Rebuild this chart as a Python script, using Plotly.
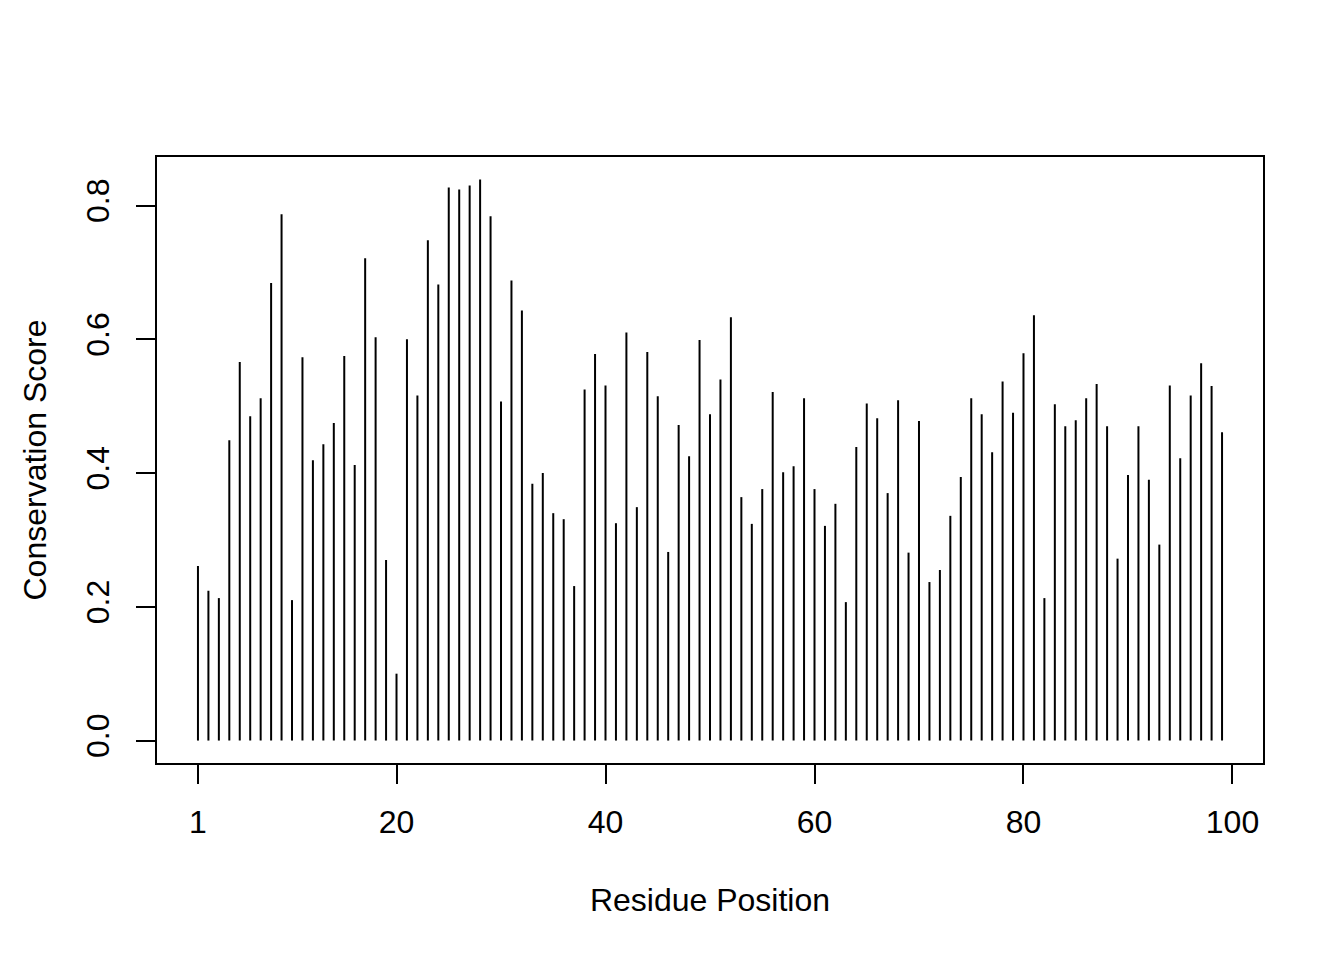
import plotly.graph_objects as go

# residue positions and conservation scores
positions = list(range(1, 100))
scores = [
    0.261, 0.224, 0.213, 0.449, 0.566, 0.485, 0.512, 0.684, 0.787, 0.210,
    0.573, 0.419, 0.443, 0.475, 0.575, 0.412, 0.721, 0.603, 0.270, 0.100,
    0.600, 0.516, 0.748, 0.682, 0.827, 0.824, 0.830, 0.839, 0.784, 0.507,
    0.688, 0.643, 0.384, 0.400, 0.340, 0.331, 0.231, 0.525, 0.578, 0.531,
    0.325, 0.610, 0.349, 0.581, 0.515, 0.282, 0.472, 0.425, 0.599, 0.488,
    0.540, 0.633, 0.364, 0.324, 0.376, 0.521, 0.401, 0.410, 0.512, 0.376,
    0.321, 0.354, 0.207, 0.439, 0.504, 0.482, 0.370, 0.509, 0.281, 0.478,
    0.237, 0.255, 0.336, 0.394, 0.512, 0.488, 0.431, 0.537, 0.490, 0.579,
    0.636, 0.213, 0.503, 0.470, 0.479, 0.512, 0.533, 0.470, 0.272, 0.397,
    0.470, 0.390, 0.293, 0.531, 0.422, 0.516, 0.564, 0.530, 0.461,
]
x_ticks = [1, 20, 40, 60, 80, 100]
y_ticks = [0.0, 0.2, 0.4, 0.6, 0.8]

FONT = "Liberation Sans, Arial, Helvetica, sans-serif"

# type="h" style: one vertical segment per residue
hx, hy = [], []
for p, s in zip(positions, scores):
    hx += [p, p, None]
    hy += [0, s, None]

fig = go.Figure(go.Scatter(
    x=hx, y=hy, mode="lines",
    line=dict(color="black", width=2),
    hoverinfo="skip", showlegend=False,
))

# R-style 4% axis extension
xspan = max(positions) - min(positions)
yspan = max(scores) - 0
xr = [min(positions) - 0.04 * xspan, max(positions) + 0.04 * xspan]
yr = [0 - 0.04 * yspan, max(scores) + 0.04 * yspan]

axis_common = dict(
    showgrid=False, zeroline=False,
    showline=True, linecolor="black", linewidth=2, mirror=True,
    ticks="outside", ticklen=19, tickwidth=2, tickcolor="black",
    tickfont=dict(size=32, color="black", family=FONT),
)

fig.update_xaxes(
    range=xr, tickvals=x_ticks, ticktext=[str(t) for t in x_ticks],
    title=dict(text="Residue Position", font=dict(size=32, color="black", family=FONT), standoff=49),
    ticklabelstandoff=11,
    **axis_common,
)
fig.update_yaxes(
    range=yr, tickvals=y_ticks, ticktext=[f"{t:.1f}" for t in y_ticks],
    tickangle=-90,
    title=dict(text="Conservation Score", font=dict(size=32, color="black", family=FONT), standoff=24),
    ticklabelstandoff=14,
    **axis_common,
)

# page body adds an 8px offset, so margins are shifted to compensate
fig.update_layout(
    width=1344, height=960,
    margin=dict(l=149, r=89, t=149, b=205),
    plot_bgcolor="white", paper_bgcolor="white",
    font=dict(family=FONT, color="black"),
)

fig.write_html("out.html")
